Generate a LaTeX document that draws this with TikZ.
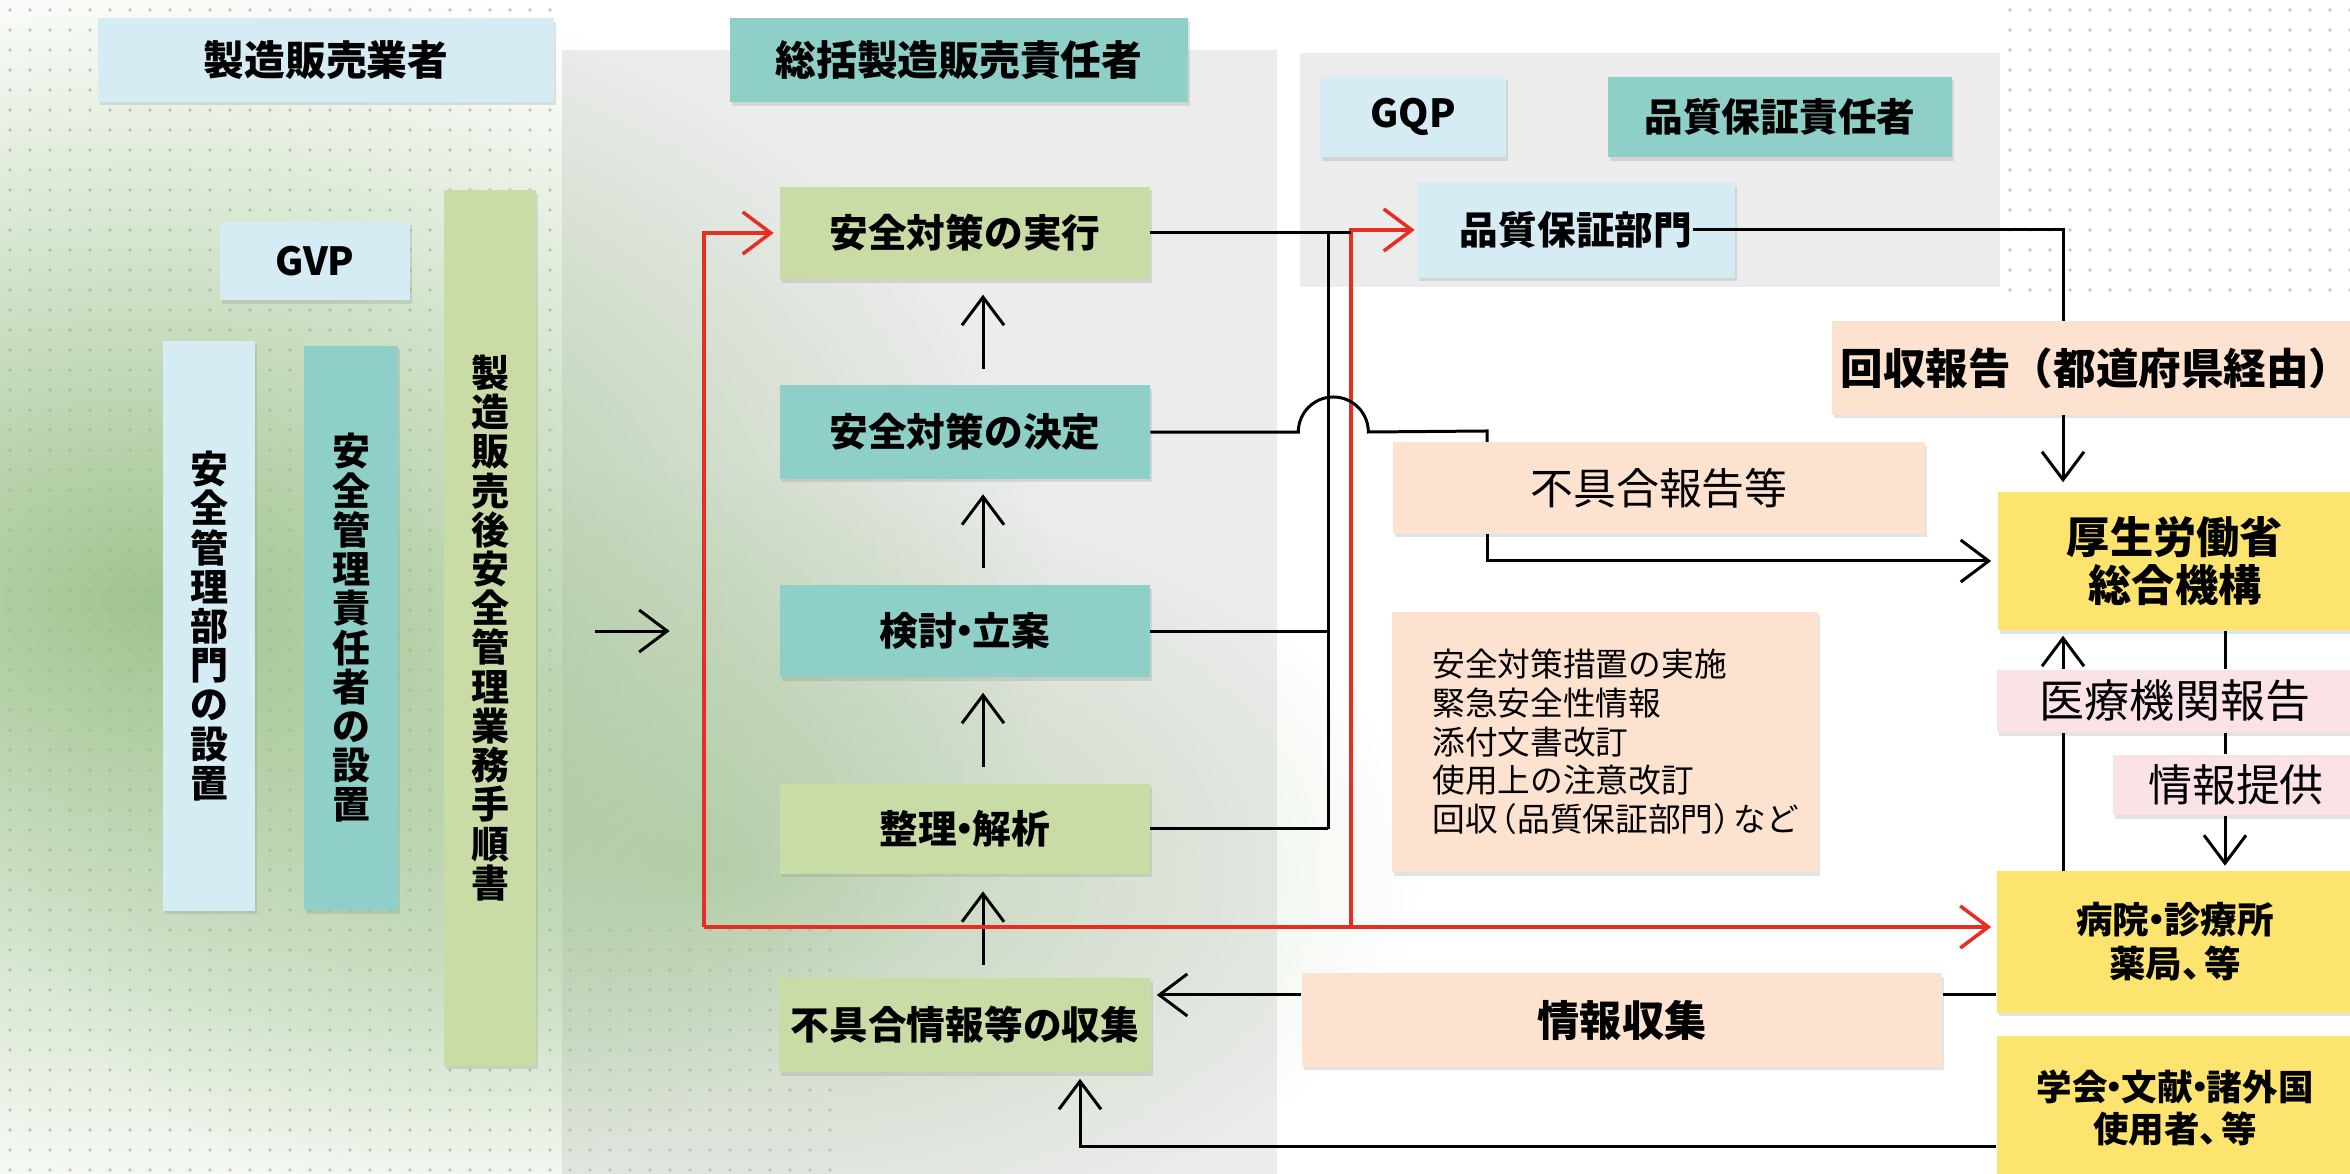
\documentclass[tikz,border=0pt]{standalone}
\usepackage{fontspec}
\setmainfont{Noto Sans CJK JP}
\usetikzlibrary{arrows.meta,positioning,shadows,fadings}

\definecolor{boxblue}{RGB}{213,236,245}
\definecolor{boxteal}{RGB}{142,207,199}
\definecolor{boxgreen}{RGB}{201,220,166}
\definecolor{boxpeach}{RGB}{253,226,208}
\definecolor{boxpink}{RGB}{251,226,230}
\definecolor{boxyellow}{RGB}{253,228,110}
\definecolor{panelgray}{RGB}{236,236,236}
\definecolor{linered}{RGB}{232,45,35}
\definecolor{blobgreen}{RGB}{150,190,132}
\definecolor{dotgray}{RGB}{198,198,198}

\newcommand\naka{\kern-0.3em・\kern-0.3em}
\newcommand\toten{、\kern-0.4em}
\newcommand\lpar{\kern-0.4em（}
\newcommand\rpar{）\kern-0.4em}

\tikzfading[name=blobfade, inner color=transparent!10, outer color=transparent!100]

\begin{document}
\begin{tikzpicture}[
  x=0.01cm, y=-0.01cm,
  node distance=1.05cm,
  every node/.style={inner sep=0pt, align=center},
  box/.style={rectangle, drop shadow={shadow xshift=0.02cm, shadow yshift=-0.035cm, opacity=0.22},
    font=\bfseries\fontsize{11pt}{13pt}\selectfont},
  bluebox/.style={box, fill=boxblue},
  tealbox/.style={box, fill=boxteal},
  greenbox/.style={box, fill=boxgreen},
  peachbox/.style={box, fill=boxpeach},
  pinkbox/.style={box, fill=boxpink},
  yellowbox/.style={box, fill=boxyellow},
  column/.style={font=\bfseries\fontsize{10.8pt}{11.15pt}\selectfont},
  line/.style={draw=black, line width=0.85pt},
  arr/.style={line, -{Straight Barb[length=0.28cm, width=0.42cm]}},
  redline/.style={draw=linered, line width=1pt},
  redarr/.style={redline, -{Straight Barb[length=0.28cm, width=0.42cm]}}
]
\useasboundingbox (0,0) rectangle (2350,1174);
\fill[white] (0,0) rectangle (2350,1174);

% background panels and dots
\fill[panelgray] (562,50) rectangle (1277,1174);
\fill[panelgray] (1300,53) rectangle (2000,287);
\foreach \x in {10,30,...,550}
  \foreach \y in {10,30,...,1170}
    \fill[dotgray] (\x,\y) circle[radius=0.018cm];
\foreach \x in {570,590,...,830}
  \foreach \y in {930,950,...,1170}
    \fill[dotgray] (\x,\y) circle[radius=0.018cm];
\foreach \x in {2010,2030,...,2350}
  \foreach \y in {10,30,...,290}
    \fill[dotgray] (\x,\y) circle[radius=0.018cm];
\fill[blobgreen, path fading=blobfade] (150,600) ellipse[x radius=9cm, y radius=6.4cm];
\fill[blobgreen, path fading=blobfade, opacity=0.6] (720,870) ellipse[x radius=7cm, y radius=4cm];

% headers
\node[bluebox, minimum width=4.56cm, minimum height=0.83cm, font=\bfseries\fontsize{11.6pt}{13pt}\selectfont] (maker) at (326,60) {製造販売業者};
\node[tealbox, minimum width=4.58cm, minimum height=0.84cm, font=\bfseries\fontsize{11.6pt}{13pt}\selectfont] (sokatsu) at (959,60) {総括製造販売責任者};
\node[bluebox, minimum width=1.86cm, minimum height=0.8cm] (gqp) at (1413,117) {GQP};
\node[tealbox, minimum width=3.43cm, minimum height=0.8cm] (qaresp) at (1780,117) {品質保証責任者};
\node[bluebox, minimum width=3.17cm, minimum height=0.95cm] (qadept) at (1576,230) {品質保証部門};
\node[bluebox, minimum width=1.9cm, minimum height=0.78cm] (gvp) at (315,261) {GVP};

% vertical columns
\node[bluebox, column, minimum width=0.92cm, minimum height=5.69cm] (col1) at (209,626)
  {安\\全\\管\\理\\部\\門\\の\\設\\置};
\node[tealbox, column, minimum width=0.94cm, minimum height=5.64cm] (col2) at (351,628)
  {安\\全\\管\\理\\責\\任\\者\\の\\設\\置};
\node[greenbox, column, minimum width=0.92cm, minimum height=8.75cm] (col3) at (490,628)
  {製\\造\\販\\売\\後\\安\\全\\管\\理\\業\\務\\手\\順\\書};

% safety flow
\node[greenbox, minimum width=3.69cm, minimum height=0.92cm] (exec) at (965,233) {安全対策の実行};
\node[tealbox, minimum width=3.69cm, minimum height=0.93cm, below=of exec] (decide) {安全対策の決定};
\node[tealbox, minimum width=3.69cm, minimum height=0.92cm, below=of decide] (plan) {検討\naka 立案};
\node[greenbox, minimum width=3.69cm, minimum height=0.9cm, below=of plan] (analyze) {整理\naka 解析};
\node[greenbox, minimum width=3.72cm, minimum height=0.94cm, below=1.03cm of analyze] (collect) {不具合情報等の収集};

% reports and authorities
\node[peachbox, minimum width=5.32cm, minimum height=0.91cm, font=\mdseries\fontsize{12.2pt}{14pt}\selectfont] (fuguai) at (1659,488) {不具合報告等};
\node[peachbox, text width=3.45cm, minimum height=2.6cm, inner xsep=0.4cm, align=left,
  font=\mdseries\fontsize{9.3pt}{11pt}\selectfont] (measures) at (1605,742)
  {安全対策措置の実施\\緊急安全性情報\\添付文書改訂\\使用上の注意改訂\\回収\lpar 品質保証部門\rpar など};
\node[peachbox, minimum width=6.4cm, minimum height=0.93cm, font=\bfseries\fontsize{12pt}{14pt}\selectfont] (jouhou) at (1622,1020) {情報収集};
\node[peachbox, minimum width=5.27cm, minimum height=0.93cm, font=\bfseries\fontsize{12.1pt}{14pt}\selectfont] (kaishu) at (2096,368) {回収報告（都道府県経由）};
\node[yellowbox, minimum width=3.54cm, minimum height=1.38cm, font=\bfseries\fontsize{12.3pt}{13.7pt}\selectfont] (mhlw) at (2175,561) {厚生労働省\\総合機構};
\node[pinkbox, minimum width=3.56cm, minimum height=0.62cm, font=\mdseries\fontsize{12.8pt}{14pt}\selectfont] (iryo) at (2175,701) {医療機関報告};
\node[pinkbox, minimum width=2.46cm, minimum height=0.6cm, font=\mdseries\fontsize{12.5pt}{14pt}\selectfont] (teikyo) at (2236,785) {情報提供};
\node[yellowbox, minimum width=3.56cm, minimum height=1.41cm, font=\bfseries\fontsize{10.4pt}{12.5pt}\selectfont] (hosp) at (2175,942) {病院\naka 診療所\\薬局\toten 等};
\node[yellowbox, minimum width=3.56cm, minimum height=1.43cm, font=\bfseries\fontsize{10.1pt}{12.2pt}\selectfont] (gakkai) at (2175,1108) {学会\naka 文献\naka 諸外国\\使用者\toten 等};

% connectors
\coordinate (rl) at (704,927);
\coordinate (rr) at (1351,927);
\coordinate (bus) at (1328,233);
\coordinate (dk) at (1487,431);
\coordinate (kx) at (2063,232);
\coordinate (tx) at (2225,0);
\coordinate (jy) at (1970,995);
\coordinate (gb) at (1080,1147);

\draw[arr, shorten <=0.58cm, shorten >=1.1cm] (col3.east |- plan.west) -- (plan.west);
\foreach \a/\b in {decide/exec, plan/decide, analyze/plan}
  \draw[arr, shorten <=0.16cm, shorten >=0.15cm] ([xshift=0.18cm]\a.north) -- ([xshift=0.18cm]\b.south);
\draw[arr, shorten <=0.12cm, shorten >=0.17cm] ([xshift=0.18cm]collect.north) -- ([xshift=0.18cm]analyze.south);

\draw[redarr, shorten >=0.06cm] (rl) |- (exec.west);
\draw[redarr, shorten >=0.05cm] (rl) -- (rl -| hosp.west);
\draw[redarr, shorten >=0.02cm] (rr) |- (qadept.west);

\draw[line] (exec.east) -- (exec.east -| rr);
\draw[line] (bus) -- (bus |- analyze.east);
\draw[line] (plan.east) -- (plan.east -| bus);
\draw[line] (analyze.east) -- (analyze.east -| bus);
\draw[line] (decide.east) -- ++(148,0) arc[start angle=180, end angle=0, radius=0.35cm] -- (dk) -- (dk |- fuguai.north);
\draw[arr, shorten >=0.06cm] (dk |- fuguai.south) |- (mhlw.west);

\draw[line] ([xshift=-0.42cm]qadept.east) -| (kx |- kaishu.north);
\draw[arr, shorten >=0.09cm] (kx |- kaishu.south) -- (kx |- mhlw.north);
\draw[line] (kx |- hosp.north) -- (kx |- iryo.south);
\draw[arr, shorten >=0.05cm] (kx |- iryo.north) -- (kx |- mhlw.south);
\draw[line] (tx |- mhlw.south) -- (tx |- iryo.north);
\draw[line] (tx |- iryo.south) -- (tx |- teikyo.north);
\draw[arr, shorten >=0.05cm] (tx |- teikyo.south) -- (tx |- hosp.north);

\draw[line] (hosp.west |- jy) -- (jouhou.east |- jy);
\draw[arr, shorten >=0.05cm] (jouhou.west |- jy) -- (collect.east |- jy);
\draw[arr, shorten >=0.06cm] (gakkai.west |- gb) -| (gb |- collect.south);
\end{tikzpicture}
\end{document}
